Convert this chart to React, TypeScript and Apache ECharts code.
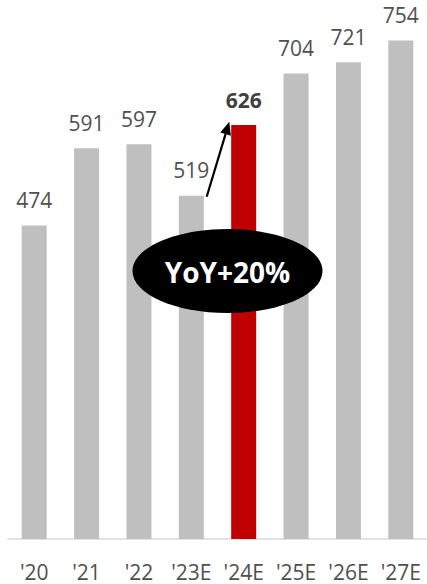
import React, { useEffect, useRef } from "react";
import * as echarts from "echarts";

const categories = ["'20", "'21", "'22", "'23E", "'24E", "'25E", "'26E", "'27E"];
const values = [474, 591, 597, 519, 626, 704, 721, 754];
const highlightIndex = 4;
const annotationText = "YoY+20%";

export default function App() {
  const ref = useRef<HTMLDivElement>(null);
  useEffect(() => {
    if (!ref.current) return;
    const chart = echarts.init(ref.current, null, { renderer: "svg" });
    const font = "'Open Sans', sans-serif";
    const tip = [229.3, 121.7];
    const start = [206.7, 196.7];
    const dx = tip[0] - start[0];
    const dy = tip[1] - start[1];
    const len = Math.sqrt(dx * dx + dy * dy);
    const ux = dx / len, uy = dy / len;
    const hl = 13, hw = 5.5;
    const bx = tip[0] - hl * ux, by = tip[1] - hl * uy;
    const px = -uy * hw, py = ux * hw;
    chart.setOption({
      animation: false,
      grid: { left: 8, width: 423, top: 10, bottom: 45 },
      xAxis: {
        type: "category",
        data: categories,
        axisLine: { show: true, lineStyle: { color: "#d9d9d9", width: 1.5 } },
        axisTick: { show: false },
        axisLabel: { color: "#505050", fontSize: 21, fontFamily: font, margin: 22 },
      },
      yAxis: { type: "value", min: 0, max: 800, show: false, splitLine: { show: false } },
      series: [
        {
          type: "bar",
          barWidth: 25,
          data: values.map((v, i) => ({
            value: v,
            itemStyle: { color: i === highlightIndex ? "#c00000" : "#bfbfbf" },
            label: i === highlightIndex ? { fontWeight: "bold", color: "#404040" } : undefined,
          })),
          label: {
            show: true,
            position: "top",
            distance: 15,
            color: "#505050",
            fontSize: 21,
            fontFamily: font,
          },
        },
      ],
      graphic: [
        {
          type: "line",
          shape: { x1: start[0], y1: start[1], x2: bx, y2: by },
          style: { stroke: "#000", lineWidth: 2.2 },
          z: 10,
        },
        {
          type: "polygon",
          shape: { points: [tip, [bx + px, by + py], [bx - px, by - py]] },
          style: { fill: "#000" },
          z: 10,
        },
        {
          type: "ellipse",
          shape: { cx: 227.5, cy: 271, rx: 95, ry: 42 },
          style: { fill: "#000" },
          z: 10,
        },
        {
          type: "text",
          x: 227.5,
          y: 272,
          style: {
            text: annotationText,
            fill: "#fff",
            font: "bold 28px 'Open Sans', sans-serif",
            align: "center",
            verticalAlign: "middle",
          },
          z: 11,
        },
      ],
    });
    return () => chart.dispose();
  }, []);
  return (
    <div
      ref={ref}
      style={{ position: "fixed", left: 0, top: 0, width: 427, height: 584, background: "#fff" }}
    />
  );
}
